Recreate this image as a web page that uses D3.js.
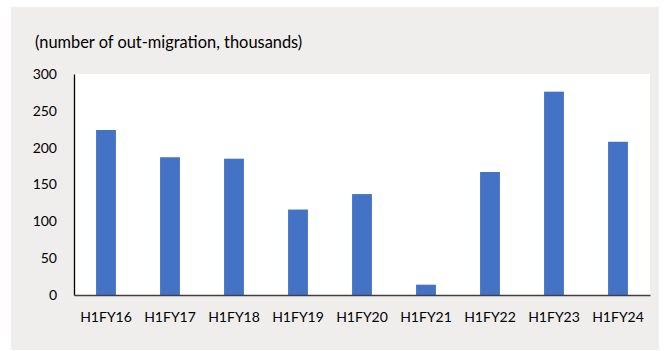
<!DOCTYPE html>
<html><head><meta charset="utf-8">
<script src="https://cdn.jsdelivr.net/npm/d3@7"></script>
<style>body{margin:0;background:#fff}svg{display:block}</style>
</head><body>
<script>
const categories = ["H1FY16","H1FY17","H1FY18","H1FY19","H1FY20","H1FY21","H1FY22","H1FY23","H1FY24"];
const values = [224, 187, 185, 116, 137, 14, 167, 276, 208];
const yTicks = [0, 50, 100, 150, 200, 250, 300];
const title = "(number of out-migration, thousands)";

const W = 666, H = 351;
const font = "Lato, 'Open Sans', sans-serif";
const svg = d3.select("body").append("svg").attr("width", W).attr("height", H);
svg.append("rect").attr("x", 11).attr("y", 7).attr("width", 648).attr("height", 343).attr("fill", "#efeeec");

const m = {l: 74, r: 650, t: 74, b: 295};
svg.append("rect").attr("x", m.l).attr("y", m.t).attr("width", m.r - m.l).attr("height", m.b - m.t).attr("fill", "#fff");

const x = d3.scaleBand().domain(categories).range([m.l, m.r]).paddingInner(0.69).paddingOuter(0.345);
const y = d3.scaleLinear().domain([0, 300]).range([m.b, m.t]);

svg.append("g").selectAll("rect").data(values).join("rect")
  .attr("x", (d, i) => x(categories[i])).attr("width", x.bandwidth())
  .attr("y", d => y(d)).attr("height", d => y(0) - y(d)).attr("fill", "#4472c4");

const ya = svg.append("g").attr("transform", `translate(${m.l},0)`)
  .call(d3.axisLeft(y).tickValues(yTicks).tickSize(0).tickPadding(17));
ya.select(".domain").attr("stroke", "#000").attr("stroke-width", 1.3);
ya.selectAll("text").attr("font-family", font).attr("font-size", 14).attr("fill", "#000");

const xa = svg.append("g").attr("transform", `translate(0,${m.b})`)
  .call(d3.axisBottom(x).tickSize(0).tickPadding(17));
xa.select(".domain").attr("stroke", "#404040").attr("stroke-width", 1.3);
xa.selectAll("text").attr("font-family", font).attr("font-size", 14).attr("fill", "#000");

svg.append("text").attr("x", 35).attr("y", 48).text(title)
  .attr("font-family", font).attr("font-size", 16.4).attr("fill", "#000");
</script>
</body></html>
